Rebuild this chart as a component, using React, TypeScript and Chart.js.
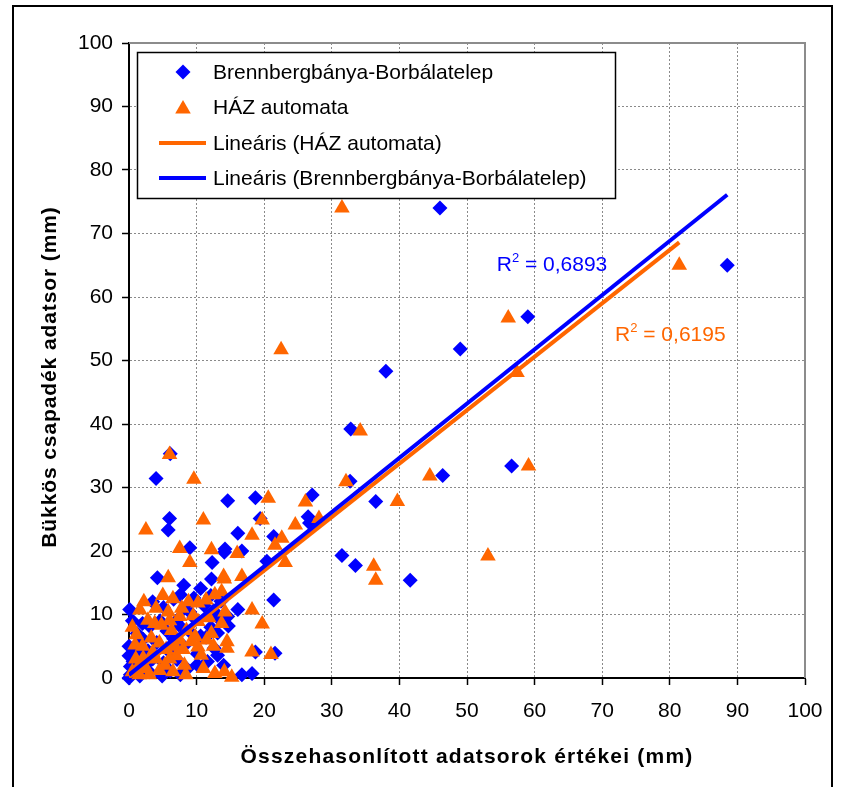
import React, { useEffect, useRef } from 'react';
import { Chart, registerables } from 'chart.js';

Chart.register(...registerables);

// ---- data ----
const xTickValues = [0, 10, 20, 30, 40, 50, 60, 70, 80, 90, 100];
const yTickValues = [0, 10, 20, 30, 40, 50, 60, 70, 80, 90, 100];

const seriesLabels = [
  'Brennbergbánya-Borbálatelep',
  'HÁZ automata',
  'Lineáris (HÁZ automata)',
  'Lineáris (Brennbergbánya-Borbálatelep)',
];

const xAxisTitle = 'Összehasonlított adatsorok értékei (mm)';
const yAxisTitle = 'Bükkös csapadék adatsor (mm)';

// [x, y] pairs
const brennbergPoints: [number, number][] = [
  [46.0, 74.0], [88.5, 65.0], [59.0, 56.9], [49.0, 51.8], [38.0, 48.3], [32.8, 39.2],
  [6.1, 35.3], [56.6, 33.4], [46.4, 31.9], [4.0, 31.4], [32.7, 31.0], [27.1, 28.8],
  [18.7, 28.4], [14.6, 27.9], [36.5, 27.8], [26.5, 25.4], [19.4, 25.1], [6.0, 25.1],
  [26.7, 24.4], [5.8, 23.3], [16.1, 22.8], [21.4, 22.3], [9.0, 20.5], [14.2, 20.3],
  [16.7, 20.0], [14.1, 19.8], [31.5, 19.3], [20.4, 18.4], [12.3, 18.2], [33.5, 17.7],
  [4.2, 15.8], [12.2, 15.6], [41.6, 15.4], [21.4, 12.3], [8.2, 11.0], [16.1, 10.8],
  [0.1, 10.8], [14.6, 9.7], [13.2, 9.4], [14.7, 8.2], [12.6, 4.7], [18.7, 4.1],
  [21.6, 3.9], [14.0, 2.0], [18.2, 0.7], [16.7, 0.5],
  [0.0, 5.0], [0.0, 3.5], [0.2, 1.8], [0.2, 0.5], [0.0, 0.0], [0.6, 2.6], [1.0, 1.1],
  [1.6, 0.3], [3.0, 1.0], [4.9, 0.3], [2.8, 4.3], [2.1, 6.1], [3.5, 3.0], [4.1, 5.6],
  [5.1, 2.4], [6.0, 4.1], [6.6, 6.2], [7.1, 2.9], [7.6, 8.1], [8.1, 5.0], [8.6, 1.4],
  [9.1, 7.2], [9.6, 9.5], [10.1, 3.8], [10.6, 6.6], [11.4, 6.4], [11.1, 11.4], [12.1, 8.0],
  [12.5, 10.6], [13.1, 7.1], [9.0, 10.4], [7.1, 9.1], [5.6, 7.4], [4.6, 9.0], [3.1, 8.1],
  [2.0, 8.6], [1.0, 4.0], [1.5, 5.6], [2.5, 2.1], [6.1, 1.1], [7.6, 0.5], [10.1, 2.1],
  [11.6, 2.6], [13.1, 3.6], [5.1, 11.1], [6.6, 12.4], [7.6, 13.1], [3.5, 12.0], [9.6, 12.6],
  [12.1, 13.0], [10.6, 14.1], [8.1, 14.6], [13.6, 12.1], [1.2, 7.0], [0.5, 9.0],
];

const hazPoints: [number, number][] = [
  [31.5, 74.0], [81.4, 65.0], [56.1, 56.7], [22.5, 51.7], [57.4, 48.1], [34.2, 38.9],
  [6.0, 35.2], [59.1, 33.4], [44.5, 31.8], [9.6, 31.3], [32.1, 30.9], [20.6, 28.3],
  [39.7, 27.8], [26.1, 27.7], [28.1, 25.1], [11.0, 24.9], [19.7, 24.9], [24.6, 24.1],
  [2.5, 23.3], [18.2, 22.5], [22.6, 22.0], [21.6, 20.9], [7.5, 20.4], [12.2, 20.2],
  [16.0, 19.6], [53.1, 19.2], [9.0, 18.2], [23.1, 18.2], [36.2, 17.6], [14.0, 16.0],
  [16.7, 16.0], [5.8, 15.8], [14.1, 15.6], [36.5, 15.4], [13.7, 13.6], [12.7, 13.1],
  [11.4, 12.3], [10.2, 11.8], [1.6, 10.7], [18.2, 10.7], [5.8, 10.4], [14.2, 10.4],
  [7.5, 9.7], [2.8, 9.1], [10.2, 8.9], [3.8, 8.6], [13.7, 8.6], [19.7, 8.5], [4.8, 8.3],
  [6.3, 7.5], [1.1, 6.8], [3.3, 6.3], [9.2, 5.7], [14.5, 5.7], [0.9, 5.2], [10.2, 4.9],
  [18.2, 4.1], [21.0, 3.7], [10.7, 3.6], [2.1, 3.1], [5.3, 2.0], [8.2, 2.0], [6.5, 1.0],
  [14.1, 1.0], [12.7, 0.7], [8.4, 0.5], [15.2, 0.1],
  [0.5, 1.0], [1.0, 3.0], [1.5, 0.5], [2.5, 1.5], [3.5, 4.0], [4.5, 5.5], [5.5, 4.5],
  [7.0, 3.5], [7.5, 6.0], [8.5, 7.5], [9.5, 9.8], [11.5, 6.0], [12.5, 5.0], [6.5, 12.5],
  [5.0, 13.0], [8.8, 12.0], [0.5, 8.0], [3.0, 0.5], [4.5, 1.2], [11.0, 1.5], [6.8, 5.0],
  [8.0, 4.5], [12.2, 7.0], [1.5, 2.0], [14.5, 4.7], [4.0, 11.0], [2.2, 12.0],
  [6.0, 9.0], [7.8, 11.0], [9.8, 6.5], [11.8, 9.5], [2.0, 5.0], [4.0, 3.0], [6.0, 3.0],
];

// linear trend lines (start and end of the fitted line)
const hazTrend: [number, number][] = [[0, 0.1], [81.4, 68.6]];
const brennbergTrend: [number, number][] = [[0, 0.5], [88.5, 76.1]];

const rSquaredValues = ['0,6893', '0,6195'];

// ---- styling / layout constants ----
const BLUE = '#0000FF';
const ORANGE = '#FF6600';
const FONT = '"Liberation Sans", Arial, Helvetica, sans-serif';
const DIAMOND_R = 7.5;
const TRIANGLE_R = 9;
const R2_ANCHORS = [
  { x: 54.4, y: 65.0, color: BLUE },
  { x: 71.9, y: 54.0, color: ORANGE },
];

const toXY = (pts: [number, number][]) => pts.map(([x, y]) => ({ x, y }));

function drawDiamond(ctx: CanvasRenderingContext2D, x: number, y: number, r: number) {
  ctx.beginPath();
  ctx.moveTo(x, y - r);
  ctx.lineTo(x + r, y);
  ctx.lineTo(x, y + r);
  ctx.lineTo(x - r, y);
  ctx.closePath();
  ctx.fill();
}

function drawTriangle(ctx: CanvasRenderingContext2D, x: number, y: number, r: number) {
  ctx.beginPath();
  ctx.moveTo(x, y - r);
  ctx.lineTo(x + r * Math.sin((2 * Math.PI) / 3), y - r * Math.cos((2 * Math.PI) / 3));
  ctx.lineTo(x + r * Math.sin((4 * Math.PI) / 3), y - r * Math.cos((4 * Math.PI) / 3));
  ctx.closePath();
  ctx.fill();
}

const overlayPlugin = {
  id: 'overlay',
  beforeDatasetsDraw(chart: any) {
    const { ctx, chartArea: a } = chart;
    ctx.save();
    ctx.strokeStyle = '#8c8c8c';
    ctx.lineWidth = 2;
    ctx.beginPath();
    ctx.moveTo(a.left, a.top);
    ctx.lineTo(a.right, a.top);
    ctx.lineTo(a.right, a.bottom);
    ctx.stroke();
    ctx.restore();
  },
  afterDraw(chart: any) {
    const { ctx, chartArea: a } = chart;
    const xs = chart.scales.x;
    const ys = chart.scales.y;
    ctx.save();

    // legend
    const lx = 137.5, ly = 52.5, lw = 478, lh = 146;
    ctx.fillStyle = '#ffffff';
    ctx.fillRect(lx, ly, lw, lh);
    ctx.strokeStyle = '#000000';
    ctx.lineWidth = 1.5;
    ctx.strokeRect(lx, ly, lw, lh);
    const rows = [72, 107, 143, 178];
    const ds = chart.data.datasets;
    ctx.font = `21px ${FONT}`;
    ctx.textBaseline = 'middle';
    ctx.textAlign = 'left';
    ds.forEach((d: any, i: number) => {
      const yy = rows[i];
      if (i === 0) {
        ctx.fillStyle = BLUE;
        drawDiamond(ctx, 183, yy, DIAMOND_R);
      } else if (i === 1) {
        ctx.fillStyle = ORANGE;
        drawTriangle(ctx, 183, yy + 2, TRIANGLE_R);
      } else {
        ctx.strokeStyle = d.borderColor;
        ctx.lineWidth = 4;
        ctx.beginPath();
        ctx.moveTo(159, yy);
        ctx.lineTo(206, yy);
        ctx.stroke();
      }
      ctx.fillStyle = '#000000';
      ctx.fillText(d.label, 213, yy + 1);
    });

    // R² labels
    R2_ANCHORS.forEach((an, i) => {
      const px = xs.getPixelForValue(an.x);
      const py = ys.getPixelForValue(an.y);
      ctx.fillStyle = an.color;
      ctx.font = `21px ${FONT}`;
      ctx.fillText('R', px, py);
      const wR = ctx.measureText('R').width;
      ctx.font = `13px ${FONT}`;
      ctx.fillText('2', px + wR, py - 7);
      const w2 = ctx.measureText('2').width;
      ctx.font = `21px ${FONT}`;
      ctx.fillText(' = ' + rSquaredValues[i], px + wR + w2, py);
    });

    // axis titles
    ctx.fillStyle = '#000000';
    ctx.font = `bold 21px ${FONT}`;
    ctx.textAlign = 'center';
    (ctx as any).letterSpacing = '1.2px';
    ctx.fillText(xAxisTitle, (a.left + a.right) / 2, 757);
    (ctx as any).letterSpacing = '0.9px';
    ctx.translate(50, 377);
    ctx.rotate(-Math.PI / 2);
    ctx.fillText(yAxisTitle, 0, 0);
    ctx.restore();
  },
};

export default function App() {
  const canvasRef = useRef<HTMLCanvasElement | null>(null);

  useEffect(() => {
    const canvas = canvasRef.current;
    if (!canvas) return;
    const tickFont = { family: FONT, size: 21 };
    const gridColor = (c: any) => (c.tick && c.tick.value === 100 ? 'rgba(0,0,0,0)' : '#8a8a8a');
    const chart = new Chart(canvas, {
      type: 'scatter',
      data: {
        datasets: [
          {
            label: seriesLabels[0],
            data: toXY(brennbergPoints),
            pointStyle: 'rectRot',
            pointRadius: DIAMOND_R,
            pointBorderWidth: 0,
            backgroundColor: BLUE,
            borderColor: BLUE,
            order: 3,
            clip: false,
          } as any,
          {
            label: seriesLabels[1],
            data: toXY(hazPoints),
            pointStyle: 'triangle',
            pointRadius: TRIANGLE_R,
            pointBorderWidth: 0,
            backgroundColor: ORANGE,
            borderColor: ORANGE,
            order: 2,
            clip: false,
          },
          {
            label: seriesLabels[2],
            data: toXY(hazTrend),
            showLine: true,
            pointRadius: 0,
            borderColor: ORANGE,
            backgroundColor: ORANGE,
            borderWidth: 4,
            order: 1,
          },
          {
            label: seriesLabels[3],
            data: toXY(brennbergTrend),
            showLine: true,
            pointRadius: 0,
            borderColor: BLUE,
            backgroundColor: BLUE,
            borderWidth: 4,
            order: 0,
          },
        ],
      },
      options: {
        responsive: false,
        animation: false,
        devicePixelRatio: 1,
        events: [],
        layout: { padding: { left: 0, top: 43, right: 36, bottom: 0 } },
        plugins: { legend: { display: false }, tooltip: { enabled: false } },
        scales: {
          x: {
            type: 'linear',
            position: 'bottom',
            min: 0,
            max: 100,
            afterBuildTicks: (s: any) => {
              s.ticks = xTickValues.map((v) => ({ value: v }));
            },
            afterFit: (s: any) => {
              s.height = 109;
            },
            ticks: { font: tickFont, color: '#000', padding: 14, maxRotation: 0, autoSkip: false },
            grid: { color: gridColor, lineWidth: 1, tickLength: 7, tickColor: '#000', tickWidth: 1.5 },
            border: { display: true, color: '#000', width: 2, dash: [2, 2] },
          },
          y: {
            type: 'linear',
            min: 0,
            max: 100,
            afterBuildTicks: (s: any) => {
              s.ticks = yTickValues.map((v) => ({ value: v }));
            },
            afterFit: (s: any) => {
              s.width = 129;
            },
            ticks: { font: tickFont, color: '#000', padding: 9, autoSkip: false },
            grid: { color: gridColor, lineWidth: 1, tickLength: 7, tickColor: '#000', tickWidth: 1.5 },
            border: { display: true, color: '#000', width: 2, dash: [2, 2] },
          },
        },
      },
      plugins: [overlayPlugin],
    });
    return () => chart.destroy();
  }, []);

  return (
    <div
      style={{
        position: 'absolute',
        left: 0,
        top: 0,
        width: 841,
        height: 787,
        overflow: 'hidden',
        background: '#ffffff',
      }}
    >
      <canvas
        ref={canvasRef}
        width={841}
        height={787}
        style={{ position: 'absolute', left: 0, top: 0, width: 841, height: 787 }}
      />
      <div
        style={{
          position: 'absolute',
          left: 12,
          top: 5,
          width: 821,
          height: 820,
          boxSizing: 'border-box',
          border: '2px solid #000',
          pointerEvents: 'none',
        }}
      />
    </div>
  );
}
